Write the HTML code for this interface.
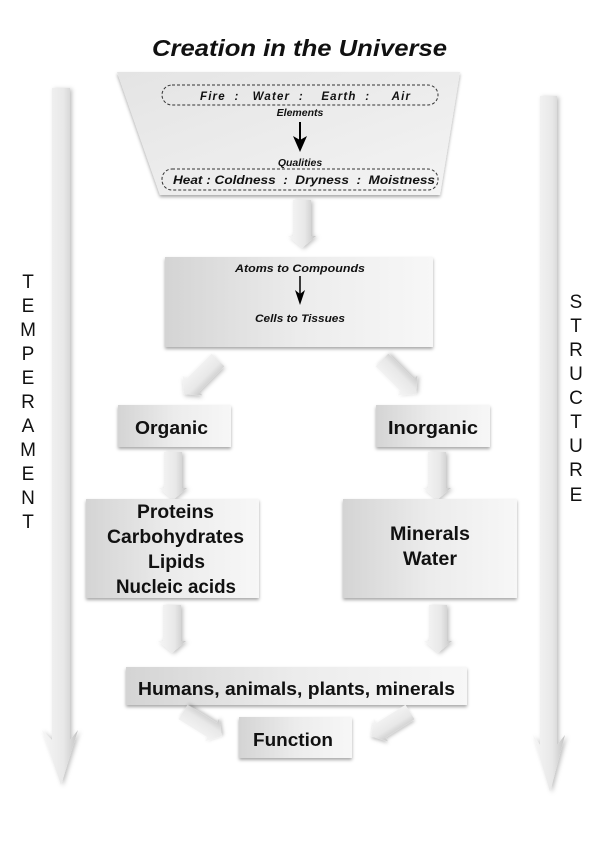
<!DOCTYPE html>
<html><head><meta charset="utf-8"><style>
html,body{margin:0;padding:0;background:#fff;}
svg{display:block;}
text{font-family:"Liberation Sans","DejaVu Sans",sans-serif;font-weight:bold;fill:#111;}
.n{font-weight:normal;}
</style></head><body>
<svg width="600" height="842" viewBox="0 0 600 842" xmlns="http://www.w3.org/2000/svg">
<defs>
<linearGradient id="box" x1="0" y1="0" x2="1" y2="0">
<stop offset="0" stop-color="#d4d4d4"/><stop offset="0.5" stop-color="#ececec"/><stop offset="1" stop-color="#f7f7f7"/></linearGradient>
<linearGradient id="trap" x1="0" y1="0" x2="1" y2="1">
<stop offset="0" stop-color="#e4e4e4"/><stop offset="1" stop-color="#f4f4f4"/></linearGradient>
<linearGradient id="arr" x1="0" y1="0" x2="1" y2="0">
<stop offset="0" stop-color="#f6f6f6"/><stop offset="0.6" stop-color="#e8e8e8"/><stop offset="1" stop-color="#c4c4c4"/></linearGradient>
<filter id="sh" x="-20%" y="-20%" width="140%" height="140%"><feDropShadow dx="0" dy="2" stdDeviation="1.5" flood-color="#000" flood-opacity="0.35"/></filter>
<filter id="sh2" x="-50%" y="-10%" width="200%" height="120%"><feDropShadow dx="2" dy="1" stdDeviation="2" flood-color="#000" flood-opacity="0.25"/></filter>
<g id="darr"><path d="M-9,0 L9,0 L9,36 L14,36 L0,48 L-14,36 L-9,36 Z" fill="url(#arr)" filter="url(#sh2)"/></g>
</defs>

<text x="152" y="56" font-size="23" font-style="italic" textLength="295" lengthAdjust="spacingAndGlyphs">Creation in the Universe</text>

<!-- side arrows -->
<path d="M52,88 L70,88 L70,740 L78,730 L61,785 L42,730 L52,740 Z" fill="url(#arr)" filter="url(#sh2)"/>
<path d="M540,96 L557,96 L557,745 L565,735 L550,792 L533,735 L540,745 Z" fill="url(#arr)" filter="url(#sh2)"/>

<g font-size="19" text-anchor="middle">
<text class="n" x="28" y="288">T</text><text class="n" x="28" y="312">E</text><text class="n" x="28" y="336">M</text><text class="n" x="28" y="360">P</text><text class="n" x="28" y="384">E</text><text class="n" x="28" y="408">R</text><text class="n" x="28" y="432">A</text><text class="n" x="28" y="456">M</text><text class="n" x="28" y="480">E</text><text class="n" x="28" y="504">N</text><text class="n" x="28" y="528">T</text>
<text class="n" x="576" y="308">S</text><text class="n" x="576" y="332">T</text><text class="n" x="576" y="356">R</text><text class="n" x="576" y="380">U</text><text class="n" x="576" y="404">C</text><text class="n" x="576" y="428">T</text><text class="n" x="576" y="452">U</text><text class="n" x="576" y="476">R</text><text class="n" x="576" y="501">E</text>
</g>

<!-- trapezoid -->
<path d="M117,72 L460,72 L440,195 L160,195 Z" fill="url(#trap)" filter="url(#sh)"/>
<rect x="162" y="85" width="276" height="20" rx="10" fill="none" stroke="#333" stroke-dasharray="3,2"/>
<text x="200" y="100" font-size="11.5" font-style="italic" textLength="210" lengthAdjust="spacing" xml:space="preserve">Fire  :   Water  :    Earth  :     Air</text>
<text x="300" y="116" font-size="10.5" font-style="italic" text-anchor="middle">Elements</text>
<line x1="300" y1="122" x2="300" y2="140" stroke="#000" stroke-width="2"/>
<path d="M293,136 L300,152 L307,136 L300,140 Z" fill="#000"/>
<text x="300" y="166" font-size="10.5" font-style="italic" text-anchor="middle">Qualities</text>
<rect x="162" y="169" width="276" height="21" rx="10" fill="none" stroke="#333" stroke-dasharray="3,2"/>
<text x="173" y="184" font-size="11.5" font-style="italic" textLength="262" lengthAdjust="spacingAndGlyphs" xml:space="preserve">Heat : Coldness  :  Dryness  :  Moistness</text>

<use href="#darr" x="302" y="200"/>

<!-- box 2 -->
<rect x="165" y="257" width="268" height="90" fill="url(#box)" filter="url(#sh)"/>
<text x="235" y="272" font-size="11" font-style="italic" textLength="130" lengthAdjust="spacingAndGlyphs">Atoms to Compounds</text>
<line x1="300" y1="276" x2="300" y2="296" stroke="#000" stroke-width="1.5"/>
<path d="M295,290 L300,305 L305,290 L300,294 Z" fill="#000"/>
<text x="255" y="322" font-size="11" font-style="italic" textLength="90" lengthAdjust="spacingAndGlyphs">Cells to Tissues</text>

<!-- diagonal arrows -->
<use href="#darr" transform="translate(218,360) rotate(45)"/>
<use href="#darr" transform="translate(382,360) rotate(-45)"/>

<rect x="118" y="405" width="113" height="42" fill="url(#box)" filter="url(#sh)"/>
<text x="135" y="434" font-size="18.5" textLength="73" lengthAdjust="spacingAndGlyphs">Organic</text>
<rect x="376" y="405" width="114" height="42" fill="url(#box)" filter="url(#sh)"/>
<text x="388" y="434" font-size="18.5" textLength="90" lengthAdjust="spacingAndGlyphs">Inorganic</text>

<use href="#darr" x="173" y="452"/>
<use href="#darr" x="437" y="452"/>

<rect x="86" y="499" width="173" height="99" fill="url(#box)" filter="url(#sh)"/>
<g font-size="19">
<text x="137" y="518" textLength="77" lengthAdjust="spacingAndGlyphs">Proteins</text>
<text x="107" y="543" textLength="137" lengthAdjust="spacingAndGlyphs">Carbohydrates</text>
<text x="148" y="568" textLength="57" lengthAdjust="spacingAndGlyphs">Lipids</text>
<text x="116" y="593" textLength="120" lengthAdjust="spacingAndGlyphs">Nucleic acids</text>
</g>
<rect x="343" y="499" width="174" height="99" fill="url(#box)" filter="url(#sh)"/>
<text x="390" y="540" font-size="19" textLength="80" lengthAdjust="spacingAndGlyphs">Minerals</text>
<text x="403" y="565" font-size="19" textLength="54" lengthAdjust="spacingAndGlyphs">Water</text>

<use href="#darr" x="172" y="605"/>
<use href="#darr" x="438" y="605"/>

<rect x="126" y="667" width="341" height="38" fill="url(#box)" filter="url(#sh)"/>
<text x="138" y="695" font-size="18.5" textLength="317" lengthAdjust="spacingAndGlyphs">Humans, animals, plants, minerals</text>

<use href="#darr" transform="translate(183,712) rotate(-58) scale(0.95)"/>
<use href="#darr" transform="translate(410,712) rotate(58) scale(0.95)"/>

<rect x="239" y="717" width="113" height="41" fill="url(#box)" filter="url(#sh)"/>
<text x="253" y="746" font-size="18.5" textLength="80" lengthAdjust="spacingAndGlyphs">Function</text>
</svg>
</body></html>
